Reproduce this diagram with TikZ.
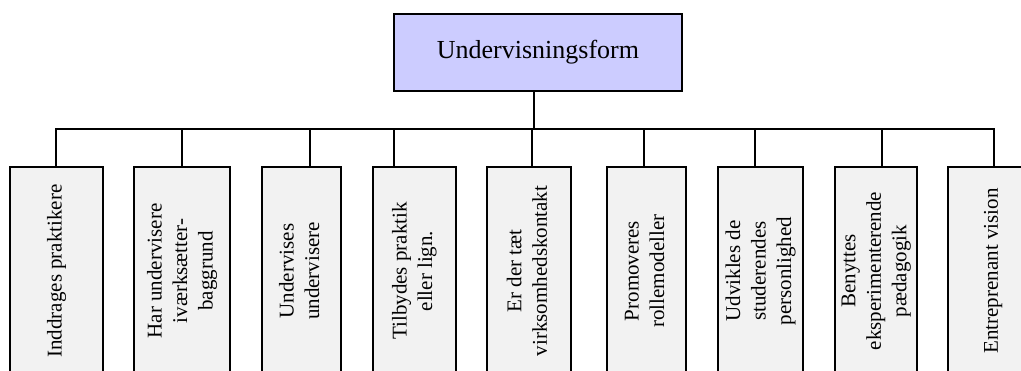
\documentclass[tikz,border=0pt]{standalone}
\usepackage{fontspec}
\setmainfont{Liberation Serif}
\usetikzlibrary{calc}
\newcommand{\vlabel}[1]{\rotatebox{90}{\begin{tabular}{@{}c@{}}#1\end{tabular}}}
\definecolor{topfill}{HTML}{CCCCFF}
\definecolor{childfill}{HTML}{F2F2F2}
\begin{document}
\begin{tikzpicture}[x=1pt,y=1pt,
  line width=2pt,
  topbox/.style={draw=black, fill=topfill, inner sep=0pt, line width=2pt,
    minimum width=288pt, minimum height=77pt,
    font=\fontsize{26}{30}\selectfont},
  childbox/.style={draw=black, fill=childfill, inner sep=0pt, line width=2pt,
    minimum height=208pt, minimum width=#1,
    font=\fontsize{21}{25.5}\selectfont},
  link/.style={draw=black, line width=2pt}]
\useasboundingbox (0,0) rectangle (1021,-371);
\clip (0,0) rectangle (1021,-371);

% root
\node[topbox] (top) at (538,-52.5) {Undervisningsform};

% children
\node[childbox=93pt]   (c1) at (56.5,-271)  {\vlabel{Inddrages praktikere}};
\node[childbox=96pt]   (c2) at (182,-271)   {\vlabel{Har undervisere\\iværksætter-\\baggrund}};
\node[childbox=79.3pt] (c3) at (301.3,-271) {\vlabel{Undervises\\undervisere}};
\node[childbox=83.3pt] (c4) at (414.3,-271) {\vlabel{Tilbydes praktik\\eller lign.}};
\node[childbox=84pt]   (c5) at (529,-271)   {\vlabel{Er der tæt\\virksomhedskontakt}};
\node[childbox=79.3pt] (c6) at (646.3,-271) {\vlabel{Promoveres\\rollemodeller}};
\node[childbox=85.6pt] (c7) at (760.5,-271) {\vlabel{Udvikles de\\studerendes\\personlighed}};
\node[childbox=82pt]   (c8) at (875.7,-271) {\vlabel{Benyttes\\eksperimenterende\\pædagogik}};
\node[childbox=90pt]   (c9) at (992.7,-271) {\vlabel{Entreprenant vision}};

% connector tree
\coordinate (bus) at (533.7,-129);
\coordinate (s1) at ([xshift=-0.8pt]c1.north);
\coordinate (s2) at (c2.north);
\coordinate (s3) at ([xshift=8.7pt]c3.north);
\coordinate (s4) at ([xshift=-20.3pt]c4.north);
\coordinate (s5) at ([xshift=2.7pt]c5.north);
\coordinate (s6) at ([xshift=-2.3pt]c6.north);
\coordinate (s7) at ([xshift=-5.5pt]c7.north);
\coordinate (s8) at ([xshift=6.3pt]c8.north);
\coordinate (s9) at ([xshift=1.6pt]c9.north);

\draw[link] ([xshift=-4.3pt]top.south) -- (bus);
\draw[link] (s1) -- (s1 |- bus) -- (s9 |- bus) -- (s9);
\foreach \s in {s2,s3,s4,s5,s6,s7,s8}
  \draw[link] (\s) -- (\s |- bus);
\end{tikzpicture}
\end{document}
